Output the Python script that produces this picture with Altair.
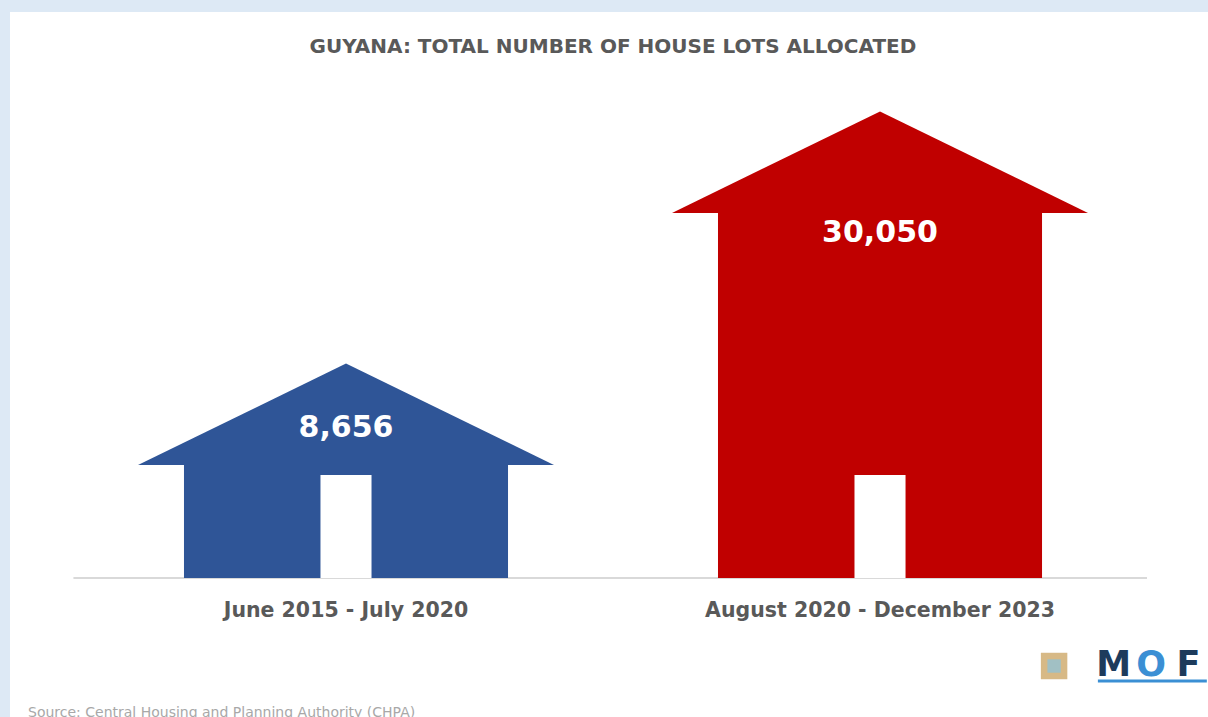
import altair as alt
import pandas as pd

# ---- data ----
periods = ["June 2015 - July 2020", "August 2020 - December 2023"]
lots = [8656, 30050]
lot_labels = ["8,656", "30,050"]
house_colors = ["#2f5597", "#c00000"]
label_shift = [3140, -1700]          # where the number sits relative to the roof line
title_text = "GUYANA: TOTAL NUMBER OF HOUSE LOTS ALLOCATED"
source_text = "Source: Central Housing and Planning Authority (CHPA)"
logo_letters = ["M", "O", "F"]
logo_colors = ["#1d3b5c", "#3b8fd4", "#1d3b5c"]

# ---- geometry of the pictogram (scale units) ----
FLOOR = -937
ROOF_RISE = 8617
DOOR_TOP = 7807
BODY_HALF = 0.3034
ROOF_HALF = 0.3895
DOOR_HALF = 0.0478

X_DOM = [-0.6292, 1.6142]
Y_DOM = [-12738, 47115]

W, H = 1198, 705

houses = pd.DataFrame({
    "period": periods,
    "lots": lots,
    "label": lot_labels,
    "pos": list(range(len(periods))),
})
houses["x1"] = houses["pos"] - BODY_HALF
houses["x2"] = houses["pos"] + BODY_HALF
houses["d1"] = houses["pos"] - DOOR_HALF
houses["d2"] = houses["pos"] + DOOR_HALF
houses["floor"] = FLOOR
houses["door_top"] = DOOR_TOP
houses["label_y"] = [v + s for v, s in zip(lots, label_shift)]

roof_rows = []
for p, v, i in zip(periods, lots, range(len(periods))):
    roof_rows.append({"period": p, "x": i - ROOF_HALF, "y": v, "base": v})
    roof_rows.append({"period": p, "x": i, "y": v + ROOF_RISE, "base": v})
    roof_rows.append({"period": p, "x": i + ROOF_HALF, "y": v, "base": v})
roof = pd.DataFrame(roof_rows)

xs = alt.Scale(domain=X_DOM, nice=False, zero=False)
ys = alt.Scale(domain=Y_DOM, nice=False, zero=False)
cs = alt.Scale(domain=periods, range=house_colors)
noax = None

base = alt.Chart(houses)

baseline = base.mark_rule(color="#d9d9d9", strokeWidth=2).encode(
    x=alt.datum(-0.51, scale=xs, axis=noax),
    x2=alt.datum(1.5),
    y=alt.datum(FLOOR, scale=ys, axis=noax),
)

body = base.mark_rect().encode(
    x=alt.X("x1:Q", scale=xs, axis=noax),
    x2="x2:Q",
    y=alt.Y("floor:Q", scale=ys, axis=noax),
    y2="lots:Q",
    color=alt.Color("period:N", scale=cs, legend=None),
)

roof_area = alt.Chart(roof).mark_area(interpolate="linear").encode(
    x=alt.X("x:Q", scale=xs, axis=noax),
    y=alt.Y("y:Q", scale=ys, axis=noax),
    y2="base:Q",
    detail="period:N",
    color=alt.Color("period:N", scale=cs, legend=None),
)

door = base.mark_rect(color="white").encode(
    x=alt.X("d1:Q", scale=xs, axis=noax),
    x2="d2:Q",
    y=alt.Y("floor:Q", scale=ys, axis=noax),
    y2="door_top:Q",
)

values = base.mark_text(
    font="DejaVu Sans", fontWeight="bold", fontSize=30, color="white",
    baseline="middle", align="center",
).encode(
    x=alt.X("pos:Q", scale=xs, axis=noax),
    y=alt.Y("label_y:Q", scale=ys, axis=noax),
    text="label:N",
)

cats = base.mark_text(
    font="DejaVu Sans", fontWeight="bold", fontSize=20.5, color="#595959",
    baseline="middle", align="center", dy=33,
).encode(
    x=alt.X("pos:Q", scale=xs, axis=noax),
    y=alt.Y("floor:Q", scale=ys, axis=noax),
    text="period:N",
)

title = alt.Chart(pd.DataFrame({"t": [title_text]})).mark_text(
    font="DejaVu Sans", fontWeight="bold", fontSize=20, color="#595959",
    baseline="alphabetic", align="center",
).encode(
    x=alt.datum(0.5, scale=xs, axis=noax),
    y=alt.value(41),
    text="t:N",
)

source = alt.Chart(pd.DataFrame({"t": [source_text]})).mark_text(
    font="DejaVu Sans", fontSize=14, color="#a8a8a8",
    baseline="middle", align="left",
).encode(
    x=alt.value(18),
    y=alt.value(701),
    text="t:N",
)

# logo letters placed along the right end of the x scale
logo_df = pd.DataFrame({"t": logo_letters, "c": logo_colors})
logo_df["lx"] = [1.405 + k * 0.075 for k in range(len(logo_letters))]
logo = alt.Chart(logo_df).mark_text(
    font="DejaVu Sans", fontWeight="bold", fontSize=35,
    baseline="alphabetic", align="left",
).encode(
    x=alt.X("lx:Q", scale=xs, axis=noax),
    y=alt.value(664),
    text="t:N",
    color=alt.Color("c:N", scale=None, legend=None),
)

logo_bar = alt.Chart(pd.DataFrame({"a": [1.408], "b": [1.612]})).mark_rule(
    color="#3b8fd4", strokeWidth=3
).encode(
    x=alt.X("a:Q", scale=xs, axis=noax),
    x2="b:Q",
    y=alt.value(669),
)

crest_df = pd.DataFrame({"cx": [1.326, 1.326], "col": ["#c9a25e", "#8fc3d8"], "sz": [700, 180]})
crest = alt.Chart(crest_df).mark_point(shape="square", filled=True, opacity=0.75).encode(
    x=alt.X("cx:Q", scale=xs, axis=noax),
    y=alt.value(654),
    color=alt.Color("col:N", scale=None, legend=None),
    size=alt.Size("sz:Q", scale=None, legend=None),
)

chart = alt.layer(
    baseline, body, roof_area, door, values, cats, title, source, logo, logo_bar, crest
).properties(
    width=W, height=H,
    background="#dde9f5",
    padding={"left": 10, "top": 12, "right": 0, "bottom": 0},
    autosize=alt.AutoSizeParams(type="none"),
).configure_view(fill="white", stroke=None)

chart.save("out.html", embed_options={"renderer": "svg", "actions": False})
